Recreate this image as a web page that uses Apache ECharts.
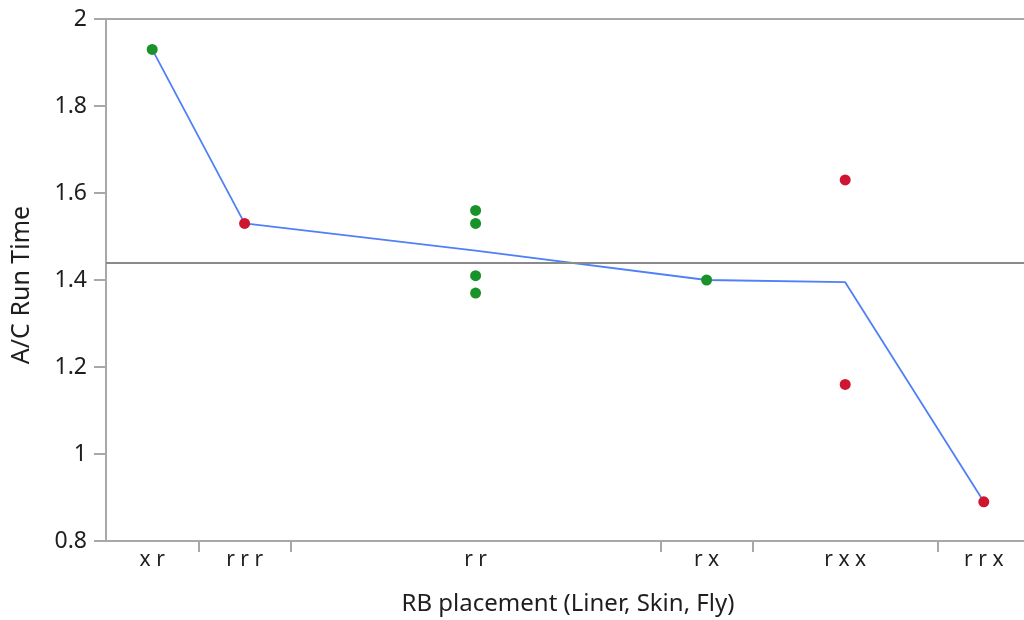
<!DOCTYPE html>
<html>
<head>
<meta charset="utf-8">
<title>A/C Run Time</title>
<script src="https://cdn.jsdelivr.net/npm/echarts@6/dist/echarts.min.js"></script>
<style>
  html, body { margin: 0; padding: 0; background: #fff; }
  #chart { width: 1024px; height: 620px; }
</style>
</head>
<body>
<div id="chart"></div>
<script>
// categories in display order (x axis)
const categories = ['x r', 'r r r', 'r r', 'r x', 'r x x', 'r r x'];
// run times measured per category
const groupValues = [
  [1.93],
  [1.53],
  [1.56, 1.53, 1.41, 1.37],
  [1.40],
  [1.63, 1.16],
  [0.89]
];
// point colour group per category
const groupColor = ['green', 'red', 'green', 'green', 'red', 'red'];
const yTicks = [0.8, 1, 1.2, 1.4, 1.6, 1.8, 2];

// each category is as wide as its number of points
const bounds = [];
const centers = [];
let acc = 0;
groupValues.forEach(function (vals) {
  centers.push(acc + vals.length / 2);
  acc += vals.length;
  bounds.push(acc);
});
const total = acc;

const greenPts = [], redPts = [], meanPts = [];
let sum = 0, n = 0;
groupValues.forEach(function (vals, i) {
  let s = 0;
  vals.forEach(function (v) {
    (groupColor[i] === 'green' ? greenPts : redPts).push([centers[i], v]);
    s += v; sum += v; n++;
  });
  meanPts.push([centers[i], s / vals.length]);
});
const grandMean = sum / n;

const myChart = echarts.init(document.getElementById('chart'));
const font = '"Noto Sans", sans-serif';

const option = {
  animation: false,
  // plot runs a little past the right edge of the picture
  grid: {
    left: 106, top: 19, width: 924, height: 522,
    outerBoundsMode: 'none',
    containLabel: false
  },
  xAxis: [{
    type: 'value',
    min: 0,
    max: total,
    name: 'RB placement (Liner, Skin, Fly)',
    nameLocation: 'middle',
    nameGap: 51,
    nameTextStyle: { color: '#1e1e1e', fontSize: 24, fontFamily: font },
    splitLine: { show: false },
    axisLine: { lineStyle: { color: '#a8a8a8', width: 2 } },
    axisTick: {
      customValues: bounds.slice(0, -1),
      length: 11,
      lineStyle: { color: '#a8a8a8', width: 2 }
    },
    axisLabel: {
      customValues: centers,
      color: '#1e1e1e',
      fontSize: 21,
      fontFamily: font,
      margin: 9,
      formatter: function (v) {
        const i = centers.indexOf(v);
        return i >= 0 ? categories[i] : '';
      }
    }
  }, {
    // top border of the frame
    type: 'value',
    position: 'top',
    min: 0,
    max: total,
    axisLine: { lineStyle: { color: '#a8a8a8', width: 2 } },
    axisTick: { show: false },
    axisLabel: { show: false },
    splitLine: { show: false }
  }],
  yAxis: {
    type: 'value',
    min: yTicks[0],
    max: yTicks[yTicks.length - 1],
    interval: 0.2,
    name: 'A/C Run Time',
    nameLocation: 'middle',
    nameGap: 72,
    nameTextStyle: { color: '#1e1e1e', fontSize: 25, fontFamily: font, padding: [0, 10, 0, 0] },
    splitLine: { show: false },
    axisLine: { show: true, lineStyle: { color: '#a8a8a8', width: 2 } },
    axisTick: { show: true, length: 12, lineStyle: { color: '#a8a8a8', width: 2 } },
    axisLabel: { color: '#1e1e1e', fontSize: 23, fontFamily: font, margin: 19 }
  },
  series: [
    {
      // overall mean line + group means
      name: 'mean',
      type: 'line',
      data: meanPts,
      symbol: 'none',
      lineStyle: { color: '#4f80f7', width: 1.8 },
      z: 3,
      markLine: {
        silent: true,
        symbol: 'none',
        label: { show: false },
        lineStyle: { color: '#8a8a8a', width: 2, type: 'solid' },
        data: [{ yAxis: grandMean }]
      }
    },
    {
      name: 'green',
      type: 'scatter',
      data: greenPts,
      symbolSize: 11,
      itemStyle: { color: '#1a922a', opacity: 1 },
      z: 4
    },
    {
      name: 'red',
      type: 'scatter',
      data: redPts,
      symbolSize: 11,
      itemStyle: { color: '#cf1530', opacity: 1 },
      z: 4
    }
  ]
};

myChart.setOption(option, true);
</script>
</body>
</html>
